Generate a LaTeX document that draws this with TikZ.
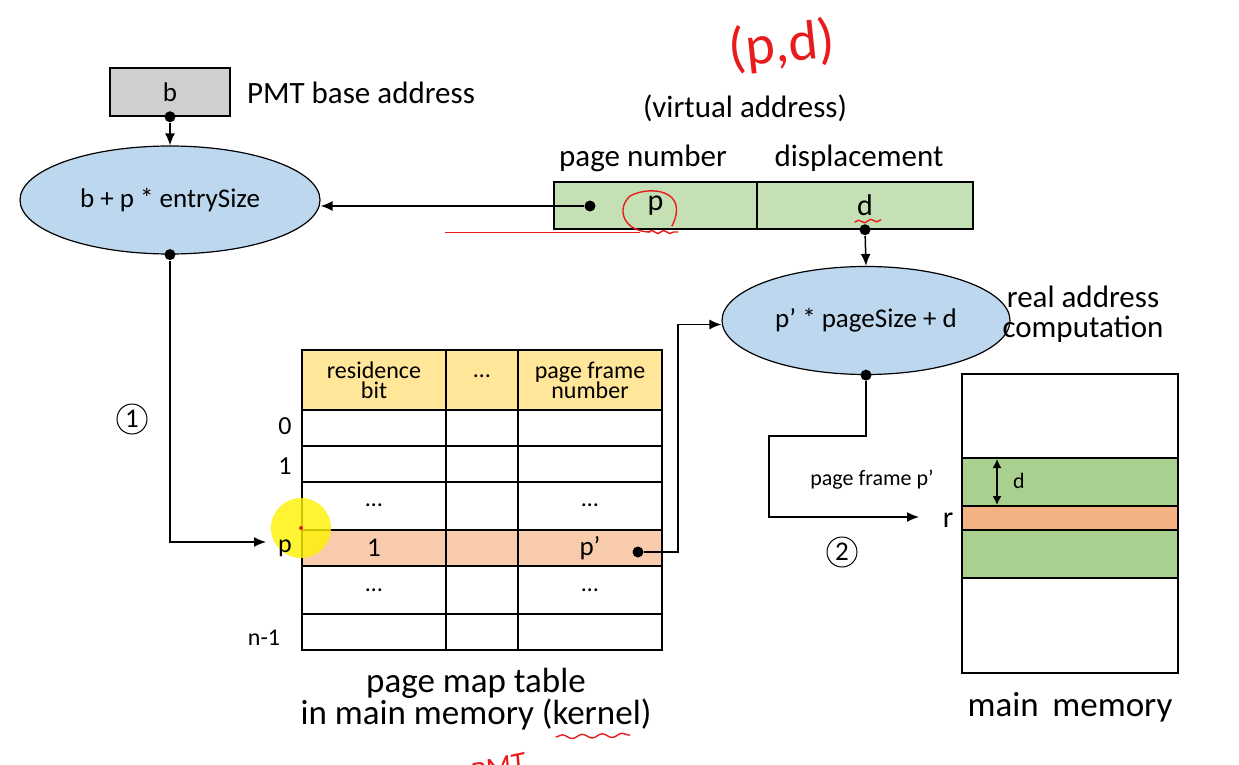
\documentclass[tikz,border=0pt]{standalone}
\usepackage{fontspec}
\setmainfont{Carlito}
\usetikzlibrary{arrows.meta, shapes.geometric, decorations.pathmorphing}
\definecolor{boxgray}{RGB}{208,206,206}
\definecolor{ellblue}{RGB}{189,215,238}
\definecolor{vagreen}{RGB}{197,224,180}
\definecolor{headyellow}{RGB}{255,230,153}
\definecolor{rowpeach}{RGB}{248,203,173}
\definecolor{memgreen}{RGB}{169,208,142}
\definecolor{memorange}{RGB}{244,177,131}
\definecolor{inkred}{RGB}{232,28,28}

\begin{document}
\begin{tikzpicture}[x=1pt, y=-1pt, line width=1.5pt,
				>={Latex[length=12pt,width=10pt]},   %arrow tips
				calc/.style={ellipse, draw, line width=1.2pt, fill=ellblue, minimum height=108pt, font=\fontsize{27}{30}\selectfont},
				field/.style={rectangle, draw, fill=vagreen, minimum height=47pt, font=\fontsize{30}{34}\selectfont},
				dot/.style={circle, fill, inner sep=0pt, minimum size=11pt},
				big/.style={font=\fontsize{31}{36}\selectfont},
				captext/.style={font=\fontsize{35}{36}\selectfont, align=center},
				cell/.style={font=\fontsize{24}{24}\selectfont, align=center},
				small/.style={font=\fontsize{22}{24}\selectfont},
				circnum/.style={circle, draw, line width=1pt, inner sep=0pt, minimum size=30pt, font=\fontsize{27}{27}\selectfont},
				ink/.style={inkred, line width=1.4pt, line cap=round}]
				% background and size
				\fill[white] (0,0) rectangle (1239,765);
				\useasboundingbox (0,0) rectangle (1239,765);
				% PMT base register
				\node[draw, fill=boxgray, minimum width=120pt, minimum height=48pt, font=\fontsize{27}{30}\selectfont] (bbox) at (170,92) {b};
				\node[big, anchor=west] (bnote) at (243,93) {PMT base address};
				\node[calc, minimum width=300pt] (ellb) at (170,200) {b + p * entrySize};
				% virtual address
				\node[big] (vanote) at (745,108) {(virtual address)};
				\node[big] (pnlabel) at (643,158) {page number};
				\node[big] (displabel) at (859,158) {displacement};
				\node[field, minimum width=203pt] (vap) at (655.5,205.5) {p};
				\node[field, minimum width=216pt] (vad) at (865,205.5) {d};
				\node[dot] (pdot) at (590,206) {};
				\node[dot] (ddot) at (vad.south) {};
				% real address computation
				\node[calc, minimum width=288pt] (ellc) at (866,320.5) {p' * pageSize + d};
				\node[big, align=center] (ranote) at (1083,314) {real address\\[-6pt]computation};
				% page map table
				\fill[headyellow] (302,350) rectangle (662,410);
				\fill[rowpeach] (302,530) rectangle (662,566);
				\draw (302,350) rectangle (662,650);
				\foreach \y in {410,446,482,530,566,614} \draw (302,\y) -- (662,\y);
				\foreach \x in {446,518} \draw (\x,350) -- (\x,650);
				% pointer highlight
				\fill[yellow, opacity=0.8] (301,528) circle (30pt);
				\fill[inkred] (301,528) circle (2pt);
				\node[cell] (hres) at (374,380) {residence\\[-4pt]bit};
				\node[cell] (hdots) at (482,376) {\dots};
				\node[cell] (hpfn) at (590,380) {page frame\\[-4pt]number};
				\node[cell] (dotsa) at (374,505) {\dots};
				\node[cell] (dotsb) at (590,505) {\dots};
				\node[cell, font=\fontsize{27}{27}\selectfont] (resbit) at (374,548) {1};
				\node[cell, font=\fontsize{27}{27}\selectfont] (pfn) at (590,548) {p’};
				\node[cell] (dotsc) at (374,590) {\dots};
				\node[cell] (dotsd) at (590,590) {\dots};
				\node[cell, font=\fontsize{26}{26}\selectfont] (row0) at (285,426) {0};
				\node[cell, font=\fontsize{26}{26}\selectfont] (row1) at (285,466) {1};
				\node[cell, font=\fontsize{26}{26}\selectfont] (rowp) at (285,548) {p};
				\node[cell] (rown) at (264,638) {n-1};
				\node[captext] (pmtcap) at (476,699) {page map table\\[-4pt]in main memory (kernel)};
				\node[dot] (pfdot) at (638,552) {};
				% main memory
				\draw (962,374) rectangle (1178,673);
				\draw[fill=memgreen] (962,458) rectangle (1178,506);
				\draw[fill=memorange] (962,506) rectangle (1178,530);
				\draw[fill=memgreen] (962,530) rectangle (1178,578);
				\coordinate (dtop) at (997,459);
				\coordinate (dbot) at (997,505);
				\draw[<->, >={Latex[length=9pt,width=9pt]}] (dtop) -- (dbot);
				\node[small] (dmem) at (1019,481) {d};
				\node[captext] (memcap) at (1070,707) {main\, memory};
				% connectors
				\node[dot] (bdot) at (bbox.south) {};
				\node[dot] (ebdot) at (ellb.south) {};
				\node[dot] (ecdot) at (ellc.south) {};
				\coordinate (ptip) at (266,542);
				\coordinate (rtip) at (919,517);
				\draw[->] (bdot) -- (ellb.north);
				\draw[->] (pdot) -- (ellb.east |- pdot);
				\draw[->] (ddot) -- (ellc.north);
				\draw[->] (ebdot) |- (ptip);
				\draw[->] (pfdot) -- (678,552) |- ([yshift=-4pt]ellc.west);
				\draw[->] (ecdot) -- (866,436) -| (769,517) -- (rtip);
				\node[big, font=\fontsize{30}{30}\selectfont] (rlabel) at (948,520) {r};
				\node[small] (pfnote) at (872,480) {page frame p’};
				\node[circnum] (stepone) at (132,419) {1};
				\node[circnum] (steptwo) at (842,552) {2};
				% red ink notes
				\node[inkred, rotate=6, font=\fontsize{56}{60}\selectfont] (pdnote) at (782,46) {(p,d)};
				\draw[inkred, line width=0.8pt] (445,232) -- (640,232);
				\draw[ink] (672,226) .. controls (690,190) and (650,185) .. (630,196) .. controls (615,210) and (625,232) .. (650,232);
				\draw[ink, decorate, decoration={snake, amplitude=1.5pt, segment length=12pt}] (648,232) -- (678,232);
				\draw[ink, decorate, decoration={snake, amplitude=1.5pt, segment length=12pt}] (855,222) -- (881,220);
				\draw[ink, decorate, decoration={snake, amplitude=2pt, segment length=20pt}] (556,737) -- (630,735);
				\node[inkred, rotate=12, font=\fontsize{30}{30}\itshape] (pmtnote) at (498,768) {PMT};
			\end{tikzpicture}
\end{document}
